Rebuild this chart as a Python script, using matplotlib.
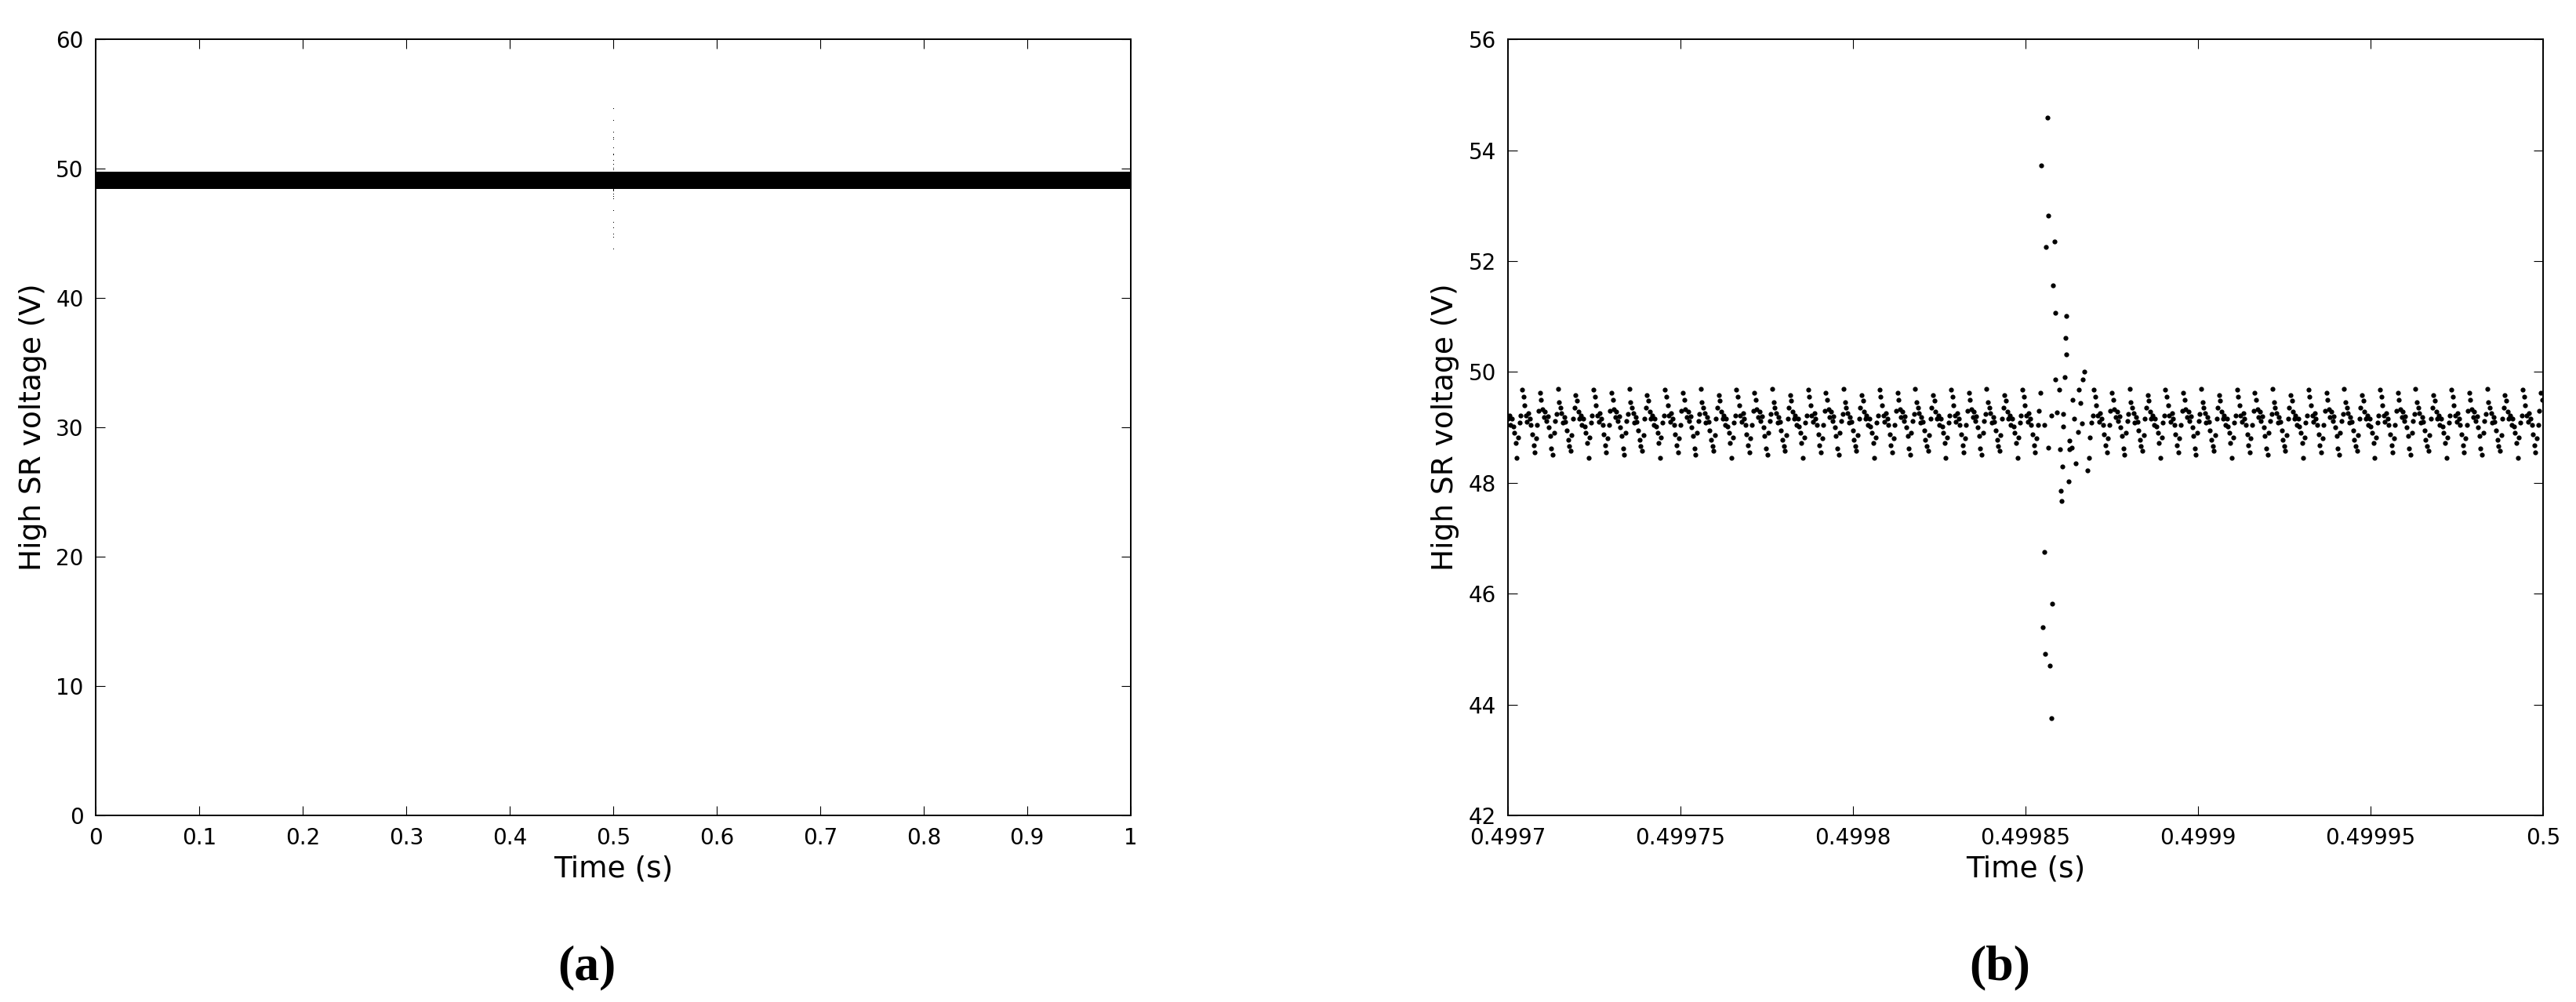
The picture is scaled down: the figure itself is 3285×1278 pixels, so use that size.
import numpy as np
import matplotlib
matplotlib.use("Agg")
import matplotlib.pyplot as plt

# sampling interval of the recorded voltage (s)
dt = 0.37e-6

# a few ripple periods, volts; repeated along the record
ripple = [
    49.68, 49.55, 49.40, 49.22, 49.10, 49.25, 49.15, 49.05, 48.88, 48.68, 48.55, 48.80, 49.05, 49.30,
    49.62, 49.50, 49.32, 49.18, 49.28, 49.12, 49.20, 49.00, 48.85, 48.62, 48.50, 48.90, 49.12, 49.24,
    49.70, 49.45, 49.35, 49.25, 49.08, 49.18, 49.10, 48.95, 48.78, 48.66, 48.58, 48.86, 49.15, 49.35,
    49.58, 49.48, 49.28, 49.15, 49.22, 49.05, 49.16, 49.02, 48.90, 48.72, 48.45, 48.82, 49.08, 49.22,
]

# transient near t = 0.49986 s: time after 0.4997 s (us) and voltage (V)
spike_t_us = [154.6, 155.1, 155.4, 155.4, 155.7, 156.0, 156.3, 156.6, 156.6,
              157.1, 157.4, 157.6, 157.7, 158.0, 158.3, 158.6, 158.6, 159.0,
              159.8, 159.9, 160.2, 160.5, 160.7, 160.8, 160.9, 161.3, 161.6,
              161.9, 161.9, 162.5, 162.7, 162.8, 163.5, 163.7, 164.0, 164.5,
              165.2, 165.5, 166.0, 166.3, 166.7, 167.1, 168.0]
spike_v = [53.72, 45.39, 46.75, 49.04, 44.92, 52.25, 54.59, 52.82, 48.63,
           44.70, 43.76, 49.22, 45.82, 51.56, 52.35, 51.07, 49.87, 49.27,
           49.68, 48.61, 47.85, 47.67, 48.29, 49.24, 49.02, 49.91, 50.62,
           51.01, 50.32, 48.03, 48.76, 48.61, 48.64, 49.50, 49.15, 48.35,
           48.92, 49.68, 49.44, 49.07, 49.87, 50.01, 48.22]

zoom_t0, zoom_t1 = 0.4997, 0.5
spike_start = zoom_t0 + min(spike_t_us) * 1e-6
spike_end = zoom_t0 + max(spike_t_us) * 1e-6


def record(t0, t1):
    t = np.arange(t0, t1 + dt / 2, dt)
    idx = np.round(t / dt).astype(np.int64) % len(ripple)
    v = np.asarray(ripple)[idx]
    keep = (t < spike_start) | (t > spike_end)
    t = np.concatenate([t[keep], zoom_t0 + np.asarray(spike_t_us) * 1e-6])
    v = np.concatenate([v[keep], spike_v])
    return t, v


plt.rcParams['font.family'] = ['DejaVu Sans']
fig = plt.figure(figsize=(32.85, 12.78), dpi=100)
ax1 = fig.add_axes([0.0371, 0.1862, 0.4018, 0.7746])
ax2 = fig.add_axes([0.5854, 0.1862, 0.4018, 0.7746])

t_all, v_all = record(0.0, 1.0)
ax1.plot(t_all, v_all, ',', color='black')
ax1.set_xlim(0, 1)
ax1.set_ylim(0, 60)
ax1.set_xticks(np.arange(0, 1.01, 0.1))
ax1.set_xticklabels(['%g' % round(x, 1) for x in np.arange(0, 1.01, 0.1)])
ax1.set_yticks(range(0, 61, 10))

t_z, v_z = record(zoom_t0, zoom_t1)
sel = (t_z >= zoom_t0) & (t_z <= zoom_t1)
ax2.plot(t_z[sel], v_z[sel], 'o', color='black', ms=4.5, mew=0)
ax2.set_xlim(zoom_t0, zoom_t1)
ax2.set_ylim(42, 56)
xt = [0.4997, 0.49975, 0.4998, 0.49985, 0.4999, 0.49995, 0.5]
ax2.set_xticks(xt)
ax2.set_xticklabels(['%g' % x for x in xt])
ax2.set_yticks(range(42, 57, 2))

for ax in (ax1, ax2):
    ax.tick_params(direction='in', top=True, right=True, length=8.5,
                   width=0.8, labelsize=20, pad=11)
    for s in ax.spines.values():
        s.set_linewidth(1.4)
    ax.set_xlabel('Time (s)', fontsize=27)
    ax.set_ylabel('High SR voltage (V)', fontsize=27)
    ax.xaxis.set_label_coords(0.5, -0.0687)
    ax.xaxis.label.set_va('center')
    ax.yaxis.set_label_coords(-0.0606, 0.5)
    ax.yaxis.label.set_va('center')

fig.text(748 / 3285, 1 - 1234 / 1278, '(a)', ha='center', va='center',
         fontsize=46, fontweight='bold', family='Liberation Serif')
fig.text(2550 / 3285, 1 - 1234 / 1278, '(b)', ha='center', va='center',
         fontsize=46, fontweight='bold', family='Liberation Serif')

fig.savefig('out.png', dpi=100)
